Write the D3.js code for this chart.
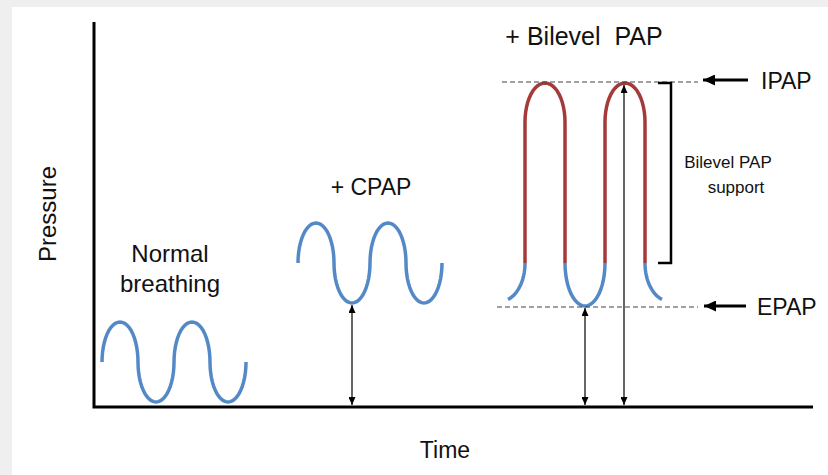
<!DOCTYPE html>
<html>
<head>
<meta charset="utf-8">
<script src="https://cdn.jsdelivr.net/npm/d3@7/dist/d3.min.js"></script>
<style>
  html, body { margin: 0; padding: 0; background: #f0f0f0; }
  svg { display: block; }
  text { font-family: "Liberation Sans", Arial, sans-serif; fill: #111; }
</style>
</head>
<body>
<svg id="chart" width="828" height="475"></svg>
<script>
// ---- Data (time units / pressure units) ----
// extremes (peak / trough) of each half-breath, and the mid level of the wave
const normalLobeT = [26, 62, 98, 134];
const normalLobeP = [85, 5, 85, 5];
const normalMidP = 45;
const cpapLobeT = [222, 258, 294, 330];
const cpapLobeP = [184, 104, 184, 104];
const cpapMidP = 144;
const bilevelPeakT = [451, 531];
const bilevelTroughT = [491];
const bilevelEndT = [414, 568];
const epap = 101;
const ipap = 324;
const bilevelLowerJoin = 144;   // blue/red switch
const bilevelUpperJoin = 285;
const bilevelEndP = 107;
const cpapArrow = { t: 258, p0: 2, p1: 102 };
const epapArrow = { t: 491, p0: 2, p1: 99 };
const ipapArrow = { t: 530, p0: 2, p1: 322 };
const labels = {
  normal: ["Normal", "breathing"],
  cpap: "+ CPAP",
  bilevel: "+ Bilevel\u00a0\u00a0PAP",
  ipap: "IPAP",
  epap: "EPAP",
  support: ["Bilevel PAP", "support"],
  xTitle: "Time",
  yTitle: "Pressure"
};

// ---- Setup ----
const svg = d3.select("#chart");
svg.append("rect").attr("x", 0).attr("y", 0).attr("width", 828).attr("height", 475).attr("fill", "#efefef");
svg.append("rect").attr("x", 12).attr("y", 7).attr("width", 816).attr("height", 468).attr("fill", "#ffffff");

const x = d3.scaleLinear().domain([0, 720]).range([94, 814]);
const y = d3.scaleLinear().domain([0, 385]).range([407, 22]);

const defs = svg.append("defs");
function marker(id, w, h, color) {
  defs.append("marker").attr("id", id)
    .attr("viewBox", `0 0 ${w} ${h}`).attr("refX", w).attr("refY", h / 2)
    .attr("markerWidth", w).attr("markerHeight", h)
    .attr("markerUnits", "userSpaceOnUse")
    .attr("orient", "auto-start-reverse")
    .append("path").attr("d", `M0,0 L${w},${h / 2} L0,${h} Z`).attr("fill", color);
}
marker("thin", 8, 7, "#000");
marker("thick", 12, 11, "#000");

// ---- Axes ----
svg.append("path")
  .attr("d", `M${x(0)},${y(385)} V${y(0)} H${x(719)}`)
  .attr("fill", "none").attr("stroke", "#000").attr("stroke-width", 3);

svg.append("text").attr("x", x(351)).attr("y", 458).attr("text-anchor", "middle")
  .attr("font-size", 23).text(labels.xTitle);
svg.append("text").attr("transform", `translate(56,${y(193)}) rotate(-90)`)
  .attr("text-anchor", "middle").attr("font-size", 24).text(labels.yTitle);

// ---- helpers ----
const blue = "#5489c8";
const red = "#a53a3b";
function arcPts(tc, pc, rt, rp, a0, a1, n = 24) {
  const pts = [];
  for (let i = 0; i <= n; i++) {
    const a = (a0 + (a1 - a0) * i / n) * Math.PI / 180;
    pts.push([tc + rt * Math.cos(a), pc + rp * Math.sin(a)]);
  }
  return pts;
}
const lineLin = d3.line().x(d => x(d[0])).y(d => y(d[1]));

// ---- Breathing waves built from half-breath lobes ----
function lobeWave(lobeT, lobeP, mid) {
  const hw = (lobeT[1] - lobeT[0]) / 2;
  let pts = [];
  lobeT.forEach((t, i) => {
    pts = pts.concat(arcPts(t, mid, hw, lobeP[i] - mid, 180, 0));
  });
  return pts;
}
svg.append("path").datum(lobeWave(normalLobeT, normalLobeP, normalMidP))
  .attr("d", lineLin).attr("fill", "none").attr("stroke", blue).attr("stroke-width", 3.5);
svg.append("path").datum(lobeWave(cpapLobeT, cpapLobeP, cpapMidP))
  .attr("d", lineLin).attr("fill", "none").attr("stroke", blue).attr("stroke-width", 3.5);

// ---- Bilevel wave ----
const half = (bilevelPeakT[1] - bilevelPeakT[0]) / 4;  // half-width of each lobe
const troughDepth = bilevelLowerJoin - epap;
const peakHeight = ipap - bilevelUpperJoin;
const endRt = 24, endRp = bilevelLowerJoin - bilevelEndP + 1;
let pts = [];
const leftJoin = bilevelPeakT[0] - half;
const aL = Math.acos((bilevelEndT[0] - (leftJoin - endRt)) / endRt) * 180 / Math.PI;
pts = pts.concat(arcPts(leftJoin - endRt, bilevelLowerJoin, endRt, -endRp, aL, 0));
bilevelPeakT.forEach((pt, i) => {
  pts.push([pt - half, bilevelUpperJoin]);
  pts = pts.concat(arcPts(pt, bilevelUpperJoin, half, peakHeight, 180, 0));
  pts.push([pt + half, bilevelLowerJoin]);
  if (i < bilevelTroughT.length) {
    const tt = bilevelTroughT[i];
    pts = pts.concat(arcPts(tt, bilevelLowerJoin, half, -troughDepth, 180, 0));
  }
});
const rightJoin = bilevelPeakT[1] + half;
const aR = Math.acos((bilevelEndT[1] - (rightJoin + endRt)) / endRt) * 180 / Math.PI;
pts = pts.concat(arcPts(rightJoin + endRt, bilevelLowerJoin, endRt, -endRp, 180, aR));

defs.append("clipPath").attr("id", "clipBlue").append("rect")
  .attr("x", 0).attr("y", y(bilevelLowerJoin)).attr("width", 828).attr("height", 475);
defs.append("clipPath").attr("id", "clipRed").append("rect")
  .attr("x", 0).attr("y", 0).attr("width", 828).attr("height", y(bilevelLowerJoin));
svg.append("path").datum(pts).attr("d", lineLin).attr("fill", "none")
  .attr("stroke", blue).attr("stroke-width", 3.5).attr("clip-path", "url(#clipBlue)");
svg.append("path").datum(pts).attr("d", lineLin).attr("fill", "none")
  .attr("stroke", red).attr("stroke-width", 3.5).attr("clip-path", "url(#clipRed)");

// ---- Dashed reference lines ----
svg.append("line").attr("x1", x(408)).attr("x2", x(604)).attr("y1", y(ipap + 1)).attr("y2", y(ipap + 1))
  .attr("stroke", "#444").attr("stroke-width", 1.2).attr("stroke-dasharray", "5,3");
svg.append("line").attr("x1", x(403)).attr("x2", x(604)).attr("y1", y(epap - 1)).attr("y2", y(epap - 1))
  .attr("stroke", "#444").attr("stroke-width", 1.2).attr("stroke-dasharray", "5,3");

// ---- Vertical double arrows ----
[cpapArrow, epapArrow, ipapArrow].forEach(a => {
  svg.append("line").attr("x1", x(a.t)).attr("x2", x(a.t)).attr("y1", y(a.p0)).attr("y2", y(a.p1))
    .attr("stroke", "#000").attr("stroke-width", 1.2)
    .attr("marker-start", "url(#thin)").attr("marker-end", "url(#thin)");
});

// ---- Bracket ----
svg.append("path")
  .attr("d", `M${x(564)},${y(ipap)} H${x(577)} V${y(bilevelLowerJoin)} H${x(564)}`)
  .attr("fill", "none").attr("stroke", "#000").attr("stroke-width", 2.5);

// ---- IPAP / EPAP pointers ----
svg.append("line").attr("x1", 748).attr("x2", 703).attr("y1", y(ipap + 3)).attr("y2", y(ipap + 3))
  .attr("stroke", "#000").attr("stroke-width", 3).attr("marker-end", "url(#thick)");
svg.append("line").attr("x1", 746).attr("x2", 704).attr("y1", y(epap)).attr("y2", y(epap))
  .attr("stroke", "#000").attr("stroke-width", 3).attr("marker-end", "url(#thick)");
svg.append("text").attr("x", 761).attr("y", y(ipap + 3) + 8.5).attr("font-size", 23).text(labels.ipap);
svg.append("text").attr("x", 757).attr("y", y(epap) + 8.5).attr("font-size", 23).text(labels.epap);

// ---- Labels ----
const nb = svg.append("text").attr("text-anchor", "middle").attr("font-size", 24);
nb.append("tspan").attr("x", x(76)).attr("y", 262).text(labels.normal[0]);
nb.append("tspan").attr("x", x(76)).attr("y", 292).text(labels.normal[1]);
svg.append("text").attr("x", x(277)).attr("y", 195).attr("text-anchor", "middle")
  .attr("font-size", 23).text(labels.cpap);
svg.append("text").attr("x", x(490)).attr("y", 45).attr("text-anchor", "middle")
  .attr("font-size", 25).text(labels.bilevel);
const sp = svg.append("text").attr("text-anchor", "middle").attr("font-size", 17);
sp.append("tspan").attr("x", 728).attr("y", 168).text(labels.support[0]);
sp.append("tspan").attr("x", 736).attr("y", 193).text(labels.support[1]);
</script>
</body>
</html>
